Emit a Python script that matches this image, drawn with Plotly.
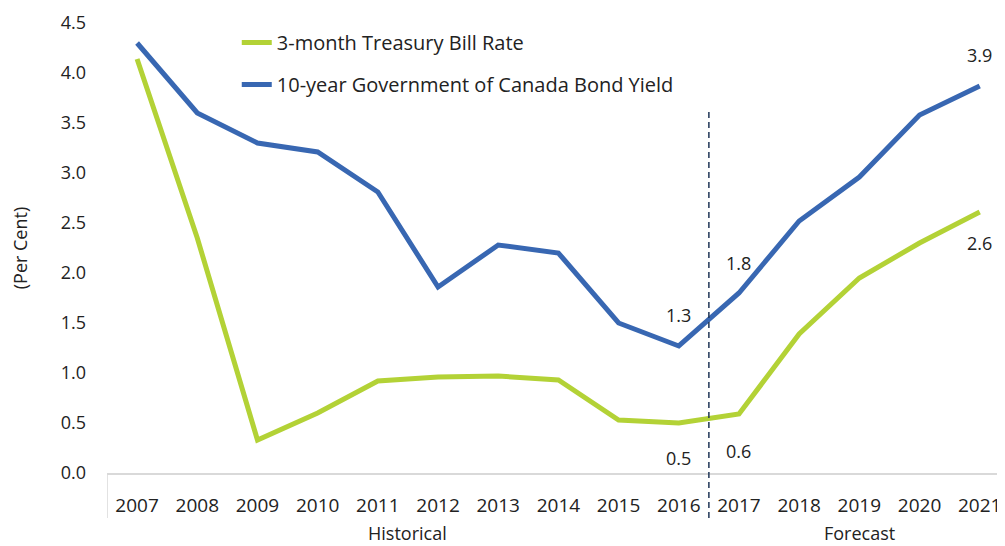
import plotly.graph_objects as go

years = ["2007", "2008", "2009", "2010", "2011", "2012", "2013", "2014",
         "2015", "2016", "2017", "2018", "2019", "2020", "2021"]
tbill = [4.14, 2.35, 0.33, 0.60, 0.92, 0.96, 0.97, 0.93, 0.53, 0.50,
         0.59, 1.39, 1.95, 2.30, 2.61]
bond = [4.30, 3.60, 3.30, 3.21, 2.81, 1.86, 2.28, 2.20, 1.50, 1.27,
        1.80, 2.52, 2.96, 3.58, 3.87]
yticks = [0.0, 0.5, 1.0, 1.5, 2.0, 2.5, 3.0, 3.5, 4.0, 4.5]

idx = list(range(len(years)))
GREEN = "#b3d236"
BLUE = "#3867b2"
FONT = "Open Sans"

fig = go.Figure()
fig.add_trace(go.Scatter(x=idx, y=tbill, mode="lines", name="3-month Treasury Bill Rate",
                         line=dict(color=GREEN, width=5), legendgroup="a"))
fig.add_trace(go.Scatter(x=idx, y=bond, mode="lines", name="10-year Government of Canada Bond Yield",
                         line=dict(color=BLUE, width=5), legendgroup="b"))

labels = [
    (9, bond[9], "1.3", 0, -31),
    (10, bond[10], "1.8", 0, -30),
    (9, tbill[9], "0.5", 0, 35),
    (10, tbill[10], "0.6", 0, 37),
    (14, bond[14], "3.9", 0, -31),
    (14, tbill[14], "2.6", 0, 31),
]
for x, y, t, ax, ay in labels:
    fig.add_annotation(x=x, y=y, text=t, showarrow=True, arrowcolor="rgba(0,0,0,0)",
                       ax=ax, ay=ay, font=dict(size=18, color="#222", family=FONT))

fig.add_annotation(x=4.5, y=-0.165, xref="x", yref="paper", text="Historical",
                   showarrow=False, font=dict(size=18, color="#222", family=FONT))
fig.add_annotation(x=12, y=-0.165, xref="x", yref="paper", text="Forecast",
                   showarrow=False, font=dict(size=18, color="#222", family=FONT))

fig.add_shape(type="line", x0=9.5, x1=9.5, xref="x", yref="paper", y0=-0.1, y1=0.802,
              line=dict(color="#1f3556", width=1.5, dash="6px,4px"))
fig.add_shape(type="line", x0=-0.5, x1=-0.5, xref="x", yref="paper", y0=-0.1, y1=0,
              line=dict(color="#d9d9d9", width=1.5))

fig.update_layout(
    width=997, height=538,
    margin=dict(l=99, r=0, t=15, b=73, autoexpand=False),
    paper_bgcolor="white", plot_bgcolor="white",
    font=dict(family=FONT, size=18, color="#222"),
    showlegend=True,
    legend=dict(x=0.1445, y=1.0, xanchor="left", yanchor="top", traceorder="grouped",
                tracegroupgap=13, font=dict(size=20, family=FONT),
                bgcolor="rgba(0,0,0,0)"),
    xaxis=dict(range=[-0.5, 14.42], tickvals=idx, ticktext=years, showgrid=False,
               zeroline=False, showline=True, linecolor="#d9d9d9", linewidth=1.5,
               ticks="", ticklabelstandoff=14, tickfont=dict(size=19), automargin=False),
    yaxis=dict(range=[0, 4.5], tickvals=yticks, ticktext=[f"{v:.1f}" for v in yticks],
               showgrid=False, zeroline=False, showline=False, ticks="",
               ticklabelstandoff=20, tickfont=dict(size=18), automargin=False,
               title=dict(text="(Per Cent)", font=dict(size=18), standoff=28)),
)

fig.write_html("out.html")
